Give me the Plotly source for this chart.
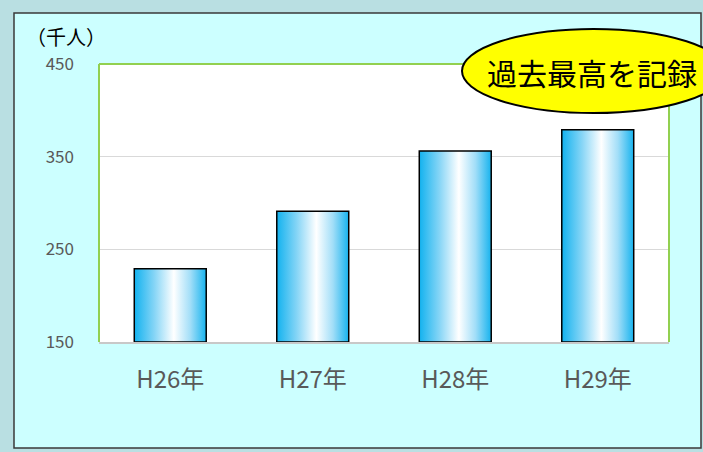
import plotly.graph_objects as go

# ---- data ----
categories = ["H26年", "H27年", "H28年", "H29年"]
values = [229, 291, 356, 379]
y_ticks = [150, 250, 350, 450]
unit_label = "（千人）"
callout_text = "過去最高を記録"

# ---- layout constants (pixels) ----
W, H = 703, 452
L, R, T, B = 99, 34, 64, 110
PW, PH = W - L - R, H - T - B
FONT = "Noto Sans CJK JP"

def px(x):
    return (x - L) / PW

def py(y):
    return (H - B - y) / PH

bar_half = 0.2525
grad = [[0.0, "#12b2ef"], [0.28, "#86d5f6"], [0.55, "#ffffff"],
        [0.78, "#a2def8"], [1.0, "#17b3ee"]]

fig = go.Figure()
base = y_ticks[0]
for i, v in enumerate(values):
    xs = [i - bar_half, i - bar_half, i + bar_half, i + bar_half, i - bar_half]
    ys = [base, v, v, base, base]
    fig.add_trace(go.Scatter(
        x=xs, y=ys, mode="lines", fill="toself",
        fillgradient=dict(type="horizontal", colorscale=grad),
        line=dict(color="black", width=1.5),
        hoverinfo="skip", showlegend=False,
    ))

shapes = [
    dict(type="rect", xref="paper", yref="paper",
         x0=px(14), x1=px(701), y0=py(448), y1=py(13),
         fillcolor="#ccffff", line=dict(color="#3a3a3a", width=1.5), layer="below"),
    dict(type="rect", xref="paper", yref="paper", x0=0, x1=1, y0=0, y1=1,
         fillcolor="white", line=dict(width=0), layer="below"),
    dict(type="line", xref="paper", yref="paper", x0=0, x1=0, y0=0, y1=1,
         line=dict(color="#92d050", width=2)),
    dict(type="line", xref="paper", yref="paper", x0=0, x1=1, y0=1, y1=1,
         line=dict(color="#92d050", width=2)),
    dict(type="line", xref="paper", yref="paper", x0=1, x1=1, y0=0, y1=1,
         line=dict(color="#92d050", width=2)),
    dict(type="circle", xref="paper", yref="paper",
         x0=px(462), x1=px(725), y0=py(113), y1=py(29),
         fillcolor="#ffff00", line=dict(color="black", width=2)),
]

annotations = [
    dict(text=unit_label, xref="paper", yref="paper", x=px(66), y=py(37),
         showarrow=False, xanchor="center", yanchor="middle",
         font=dict(size=20, color="black", family=FONT)),
    dict(text=callout_text, xref="paper", yref="paper", x=px(592), y=py(72),
         showarrow=False, xanchor="center", yanchor="middle",
         font=dict(size=30, color="black", family=FONT)),
]

fig.update_layout(
    width=W, height=H,
    margin=dict(l=L, r=R, t=T, b=B, pad=0),
    paper_bgcolor="#b9dfe2",
    plot_bgcolor="rgba(0,0,0,0)",
    font=dict(family=FONT),
    shapes=shapes,
    annotations=annotations,
    xaxis=dict(
        range=[-0.5, len(categories) - 0.5],
        tickvals=list(range(len(categories))), ticktext=categories,
        showgrid=False, zeroline=False,
        showline=True, linecolor="#c8c8c8", linewidth=2,
        ticks="", ticklabelstandoff=15,
        tickfont=dict(size=24, color="#595959", family=FONT),
    ),
    yaxis=dict(
        range=[y_ticks[0], y_ticks[-1]], tickvals=y_ticks,
        showgrid=True, gridcolor="#d9d9d9", gridwidth=1,
        zeroline=False, showline=False, ticks="",
        ticklabelstandoff=24,
        tickfont=dict(size=17, color="#595959", family=FONT),
    ),
)

fig.write_html("out.html", config={"displayModeBar": False},
               post_script="document.body.style.margin='0';")
